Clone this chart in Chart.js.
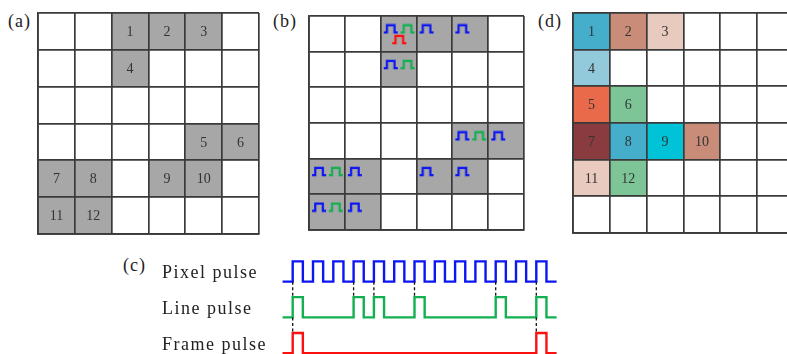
<!DOCTYPE html>
<html><head><meta charset="utf-8">
<script src="https://cdn.jsdelivr.net/npm/chart.js@4/dist/chart.umd.min.js"></script>
<style>
html,body{margin:0;padding:0;background:#fff;}
body{width:787px;height:354px;overflow:hidden;position:relative;}
canvas{position:absolute;}
.lbl{position:absolute;font-family:'Liberation Serif',serif;font-size:18px;line-height:18px;color:#222;letter-spacing:1px;white-space:nowrap;}
</style></head><body>
<div class="lbl" style="left:8px;top:12px">(a)</div>
<div class="lbl" style="left:273px;top:12px">(b)</div>
<div class="lbl" style="left:538px;top:12px">(d)</div>
<div class="lbl" style="left:123px;top:256px">(c)</div>
<canvas id="ca" width="227" height="227" style="left:35px;top:10px"></canvas>
<canvas id="cb" width="227" height="226" style="left:303px;top:10px"></canvas>
<canvas id="cd" width="227" height="226" style="left:570px;top:10px"></canvas>
<canvas id="cc" width="410" height="104" style="left:160px;top:250px"></canvas>
<script>
// ---------------- data ----------------
const cellLabels = ['1','2','3','4','5','6','7','8','9','10','11','12'];
// panel (a)/(b): column and row of each numbered pixel in the 6x6 grid
const activeCols = [2,3,4,2,4,5,0,1,3,4,0,1];
const activeRows = [0,0,0,1,3,3,4,4,4,4,5,5];
// panel (d): re-arranged positions
const packedCols = [0,1,2,0,0,1,0,1,2,3,0,1];
const packedRows = [0,0,0,1,2,2,3,3,3,3,4,4];
// pulses carried by each pixel in panel (b) (cell numbers)
const pixelPulseCells = [1,2,3,4,5,6,7,8,9,10,11,12];
const linePulseCells = [1,4,5,7,11];
const framePulseCells = [1];
// panel (c): pulse start times, in pixel-clock periods
const pixelPulseTimes = [0,1,2,3,4,5,6,7,8,9,10,11,12];
const linePulseTimes = [0,3,4,6,10,12];
const framePulseTimes = [0,12];
const pulseLabels = ['Pixel pulse','Line pulse','Frame pulse'];

// ---------------- styles ----------------
const GRAY = '#a7a7a7';
const packedColors = ['#45afcb','#c98c78','#e9cabe','#93cadb','#e9694b','#7dc596',
                      '#8a3b3f','#45afcb','#00c3d8','#c98c78','#e9cabe','#7dc596'];
const BLUE = '#0b16f2', GREEN = '#12b050', RED = '#fb1010';
const LINE = '#3a3a3a';

Chart.defaults.animation = false;
Chart.defaults.events = [];
Chart.defaults.plugins.legend.display = false;
Chart.defaults.plugins.tooltip.enabled = false;

const cellTextPlugin = {
  id: 'cellText',
  afterDatasetsDraw(chart, args, opts) {
    if (!opts || !opts.labels) return;
    const meta = chart.getDatasetMeta(0);
    const ctx = chart.ctx;
    ctx.save();
    ctx.font = '14px "Liberation Serif", serif';
    ctx.fillStyle = '#333';
    ctx.textAlign = 'center';
    ctx.textBaseline = 'middle';
    meta.data.forEach((pt, i) => ctx.fillText(opts.labels[i], pt.x, pt.y + 1));
    ctx.restore();
  }
};

function cellRadius(ctx) {
  const xs = ctx.chart.scales.x;
  return Math.abs(xs.getPixelForValue(1) - xs.getPixelForValue(0)) / Math.SQRT2 + 0.3;
}

function gridScale(rev) {
  return {
    type: 'linear', min: 0, max: 6, reverse: rev,
    ticks: { display: false, stepSize: 1 },
    grid: { color: LINE, lineWidth: 1.7, drawTicks: false, z: 1 },
    border: { color: LINE, width: 1.7, z: 1 }
  };
}

function cellDataset(cols, rows, colors) {
  return {
    data: cols.map((c, i) => ({ x: c + 0.5, y: rows[i] + 0.5 })),
    pointStyle: 'rect',
    pointRadius: cellRadius,
    pointBackgroundColor: colors,
    pointBorderWidth: 0,
    order: 10
  };
}

function gridChart(id, datasets, labels) {
  return new Chart(document.getElementById(id), {
    type: 'scatter',
    data: { datasets },
    options: {
      responsive: false,
      layout: { padding: 3 },
      scales: { x: gridScale(false), y: gridScale(true) },
      plugins: { cellText: { labels } }
    },
    plugins: [cellTextPlugin]
  });
}

// pulse icon images
function pulseIcon(color) {
  const c = document.createElement('canvas');
  c.width = 16; c.height = 11;
  const g = c.getContext('2d');
  g.strokeStyle = color; g.lineWidth = 2.2; g.lineJoin = 'miter';
  g.beginPath();
  g.moveTo(1, 9.2); g.lineTo(4.2, 9.2); g.lineTo(4.2, 1.8); g.lineTo(11.8, 1.8); g.lineTo(11.8, 9.2); g.lineTo(15, 9.2);
  g.stroke();
  return c;
}

// panel (a)
gridChart('ca', [cellDataset(activeCols, activeRows, activeCols.map(() => GRAY))], cellLabels);

// panel (b)
const iconSlots = { pixel: [0.28, 0.36], line: [0.75, 0.36], frame: [0.52, 0.66] };
function iconDataset(cells, slot, color) {
  return {
    data: cells.map(n => ({ x: activeCols[n - 1] + slot[0], y: activeRows[n - 1] + slot[1] })),
    pointStyle: pulseIcon(color),
    pointRadius: 5,
    order: 0
  };
}
gridChart('cb', [
  cellDataset(activeCols, activeRows, activeCols.map(() => GRAY)),
  iconDataset(pixelPulseCells, iconSlots.pixel, BLUE),
  iconDataset(linePulseCells, iconSlots.line, GREEN),
  iconDataset(framePulseCells, iconSlots.frame, RED)
], null);

// panel (d)
gridChart('cd', [cellDataset(packedCols, packedRows, packedColors)], cellLabels);

// panel (c): timing diagram
const traceBase = [3.53, 1.77, 0];    // pixel, line, frame
const TRACE_START = -0.5, TRACE_END = 13, PULSE_W = 0.5;
const LABEL_LEVEL = 0.4;
function wave(starts, base) {
  const pts = [{ x: TRACE_START, y: base }];
  starts.forEach(s => {
    pts.push({ x: s, y: base }, { x: s, y: base + 1 }, { x: s + PULSE_W, y: base + 1 }, { x: s + PULSE_W, y: base });
  });
  pts.push({ x: TRACE_END, y: base });
  return pts;
}
function trace(starts, base, color) {
  return { data: wave(starts, base), showLine: true, borderColor: color, borderWidth: 2.4,
           pointRadius: 0, clip: false, borderJoinStyle: 'miter' };
}
function connector(t, yFrom, yTo) {
  return { data: [{ x: t, y: yFrom }, { x: t, y: yTo }], showLine: true, borderColor: '#111',
           borderWidth: 1.3, borderDash: [3, 2.5], pointRadius: 0, clip: false };
}
const connectors = [
  ...linePulseTimes.map(t => connector(t, traceBase[0], traceBase[1] + 1)),
  ...framePulseTimes.map(t => connector(t, traceBase[1], traceBase[2] + 1))
];
const labelForValue = v => pulseLabels[traceBase.findIndex(b => Math.abs(b + LABEL_LEVEL - v) < 1e-6)];
new Chart(document.getElementById('cc'), {
  type: 'scatter',
  data: { datasets: [
    ...connectors,
    trace(pixelPulseTimes, traceBase[0], BLUE),
    trace(linePulseTimes, traceBase[1], GREEN),
    trace(framePulseTimes, traceBase[2], RED)
  ] },
  options: {
    responsive: false,
    layout: { padding: { left: 2, right: 0, top: 0, bottom: 0 } },
    scales: {
      x: { type: 'linear', display: false, min: -0.527, max: 13.66 },
      y: {
        type: 'linear', min: -0.034, max: 5.09,
        afterBuildTicks: s => { s.ticks = traceBase.slice().sort((a, b) => a - b).map(b => ({ value: b + LABEL_LEVEL })); },
        afterFit: s => { s.width = 120; s.paddingTop = 0; s.paddingBottom = 0; },
        ticks: { autoSkip: false, crossAlign: 'far', padding: 0, color: '#222',
                 font: { family: 'Liberation Serif', size: 18 },
                 callback: (v) => labelForValue(v) },
        grid: { display: false, drawTicks: false },
        border: { display: false }
      }
    }
  },
  plugins: [{ id: 'spacing', beforeDraw(chart) { chart.ctx.letterSpacing = '1.5px'; } }]
});
</script>
</body></html>
